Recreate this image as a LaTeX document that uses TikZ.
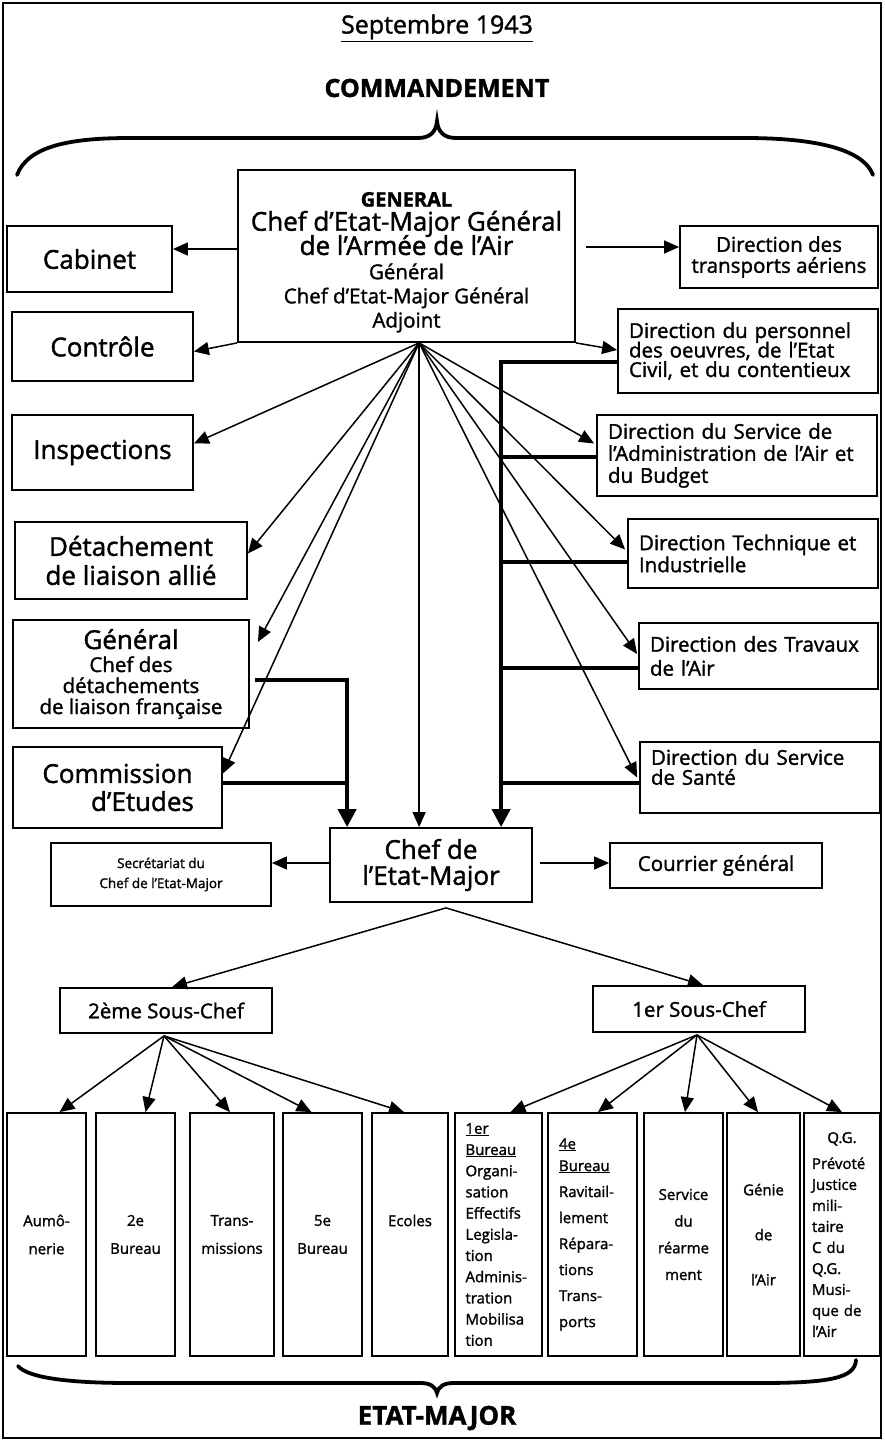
\documentclass[tikz,border=0pt]{standalone}
\usepackage{fontspec}
\setmainfont{Open Sans}[FakeBold=1.5]
\usetikzlibrary{arrows.meta,calc}
\newcommand{\fs}[2]{\fontsize{#1}{#2}\selectfont\lineskiplimit=-100pt }
\begin{document}
\begin{tikzpicture}[x=1pt,y=-1pt,
  box/.style={draw,line width=1.8pt,inner sep=0pt,align=center},
  arr/.style={line width=1.5pt,-{Triangle[length=15pt,width=13pt]}},
  thk/.style={line width=4pt},
  thkarr/.style={line width=4pt,-{Triangle[length=18pt,width=18pt]}},
  brace/.style={line width=3.8pt,line cap=round},
  big/.style={font=\fs{26}{27}},
  mid/.style={font=\fs{20.5}{22}},
]
\useasboundingbox (0,0) rectangle (885,1443);
\draw[line width=1.6pt] (3,3) rectangle (881,1438);

\node[font=\fs{25}{26}] (title) at (437,28) {\underline{Septembre 1943}};
\node[font=\bfseries\fs{25}{26}] (cmd) at (437,88) {COMMANDEMENT};
\node[font=\bfseries\fs{26}{27}] (etat) at (437,1418) {ETAT-MAJOR};

\draw[brace] (17,175) .. controls (28,146) and (70,138) .. (130,138) -- (418,138) .. controls (430,138) and (436,132) .. (437,121) .. controls (438,132) and (444,138) .. (456,138) -- (745,138) .. controls (805,138) and (862,146) .. (873,175);
\draw[brace] (18,1366) .. controls (28,1378) and (70,1383) .. (130,1383) -- (420,1383) .. controls (430,1383) and (435,1386) .. (437,1393) .. controls (439,1386) and (444,1383) .. (454,1383) -- (760,1383) .. controls (830,1383) and (855,1378) .. (856,1360);

% top
\node[box,minimum width=337pt,minimum height=172pt,font=\fs{20.5}{24.2}] (gen) at (406.5,256)
 {\rule{0pt}{27pt}{\bfseries\fs{20}{24.2}GENERAL}\\{\fs{26}{24.2}Chef d'Etat-Major Général}\\{\fs{26}{24.2}de l'Armée de l'Air}\\Général\\Chef d'Etat-Major Général\\Adjoint};

% left column
\node[box,minimum width=165pt,minimum height=66pt,big] (cab) at (89.5,259) {Cabinet};
\node[box,minimum width=181pt,minimum height=69pt,big] (ctl) at (102.5,346.5) {Contrôle};
\node[box,minimum width=181pt,minimum height=75pt,big] (insp) at (102.5,452.5) {Inspections};
\node[box,minimum width=232pt,minimum height=77pt,font=\fs{26}{29}] (det) at (131,560.5) {Détachement\\de liaison allié};
\node[box,minimum width=236pt,minimum height=108pt,font=\fs{20.5}{21}] (gcd) at (131,674) {{\fs{26}{21}Général}\\[2pt]Chef des\\détachements\\de liaison française};
\node[box,minimum width=209pt,minimum height=81pt,font=\fs{26}{28}] (com) at (117.5,787.5) {Commission\\\hspace*{50pt}d'Etudes};

% right column
\node[box,minimum width=198pt,minimum height=62pt,font=\fs{20.5}{21}] (trans) at (779,257) {Direction des\\transports aériens};
\node[box,minimum width=260pt,minimum height=84pt,font=\fs{20.5}{19.5},align=left,text width=238pt] (pers) at (748,351) {Direction du personnel\\des oeuvres, de l'Etat\\Civil, et du contentieux};
\node[box,minimum width=280pt,minimum height=81pt,font=\fs{20.5}{22},align=left,text width=258pt] (adm) at (737,455.5) {Direction du Service de\\l'Administration de l'Air et\\du Budget};
\node[box,minimum width=250pt,minimum height=69pt,font=\fs{20.5}{22},align=left,text width=228pt] (tech) at (753,553.5) {Direction Technique et\\Industrielle};
\node[box,minimum width=239pt,minimum height=66pt,font=\fs{20.5}{24},align=left,text width=217pt] (trav) at (758.5,656) {Direction des Travaux\\de l'Air};
\node[box,minimum width=240pt,minimum height=71pt,font=\fs{20.5}{20},align=left,text width=218pt] (sante) at (760,777.5) {Direction du Service\\de Santé\rule[-21pt]{0pt}{1pt}};

% chef
\node[box,minimum width=202pt,minimum height=74pt,font=\fs{26}{26}] (chef) at (431,865) {Chef de\\l'Etat-Major};
\node[box,minimum width=220pt,minimum height=63pt,font=\fs{13.5}{20}] (sec) at (161,874.5) {Secrétariat du\\Chef de l'Etat-Major};
\node[box,minimum width=212pt,minimum height=45pt,mid] (cour) at (716,865.5) {Courrier général};
\node[box,minimum width=212pt,minimum height=45pt,mid] (sc2) at (166,1010.5) {2ème Sous-Chef};
\node[box,minimum width=212pt,minimum height=46pt,mid] (sc1) at (699,1009) {1er Sous-Chef};

% bottom row
\begin{scope}[every node/.append style={minimum height=243pt}]
\node[box,minimum width=79pt,font=\fs{15}{28}] (b1) at (46.5,1234.5) {Aumô-\\nerie};
\node[box,minimum width=79pt,font=\fs{15}{28}] (b2) at (135.5,1234.5) {2e\\Bureau};
\node[box,minimum width=84pt,font=\fs{15}{28}] (b3) at (232,1234.5) {Trans-\\missions};
\node[box,minimum width=79pt,font=\fs{15}{28}] (b4) at (322.5,1234.5) {5e\\Bureau};
\node[box,minimum width=76pt,font=\fs{15}{28}] (b5) at (410,1234.5) {Ecoles\\\phantom{Bureau}};
\node[box,minimum width=87pt,font=\fs{15}{21.2},align=left,text width=66pt] (b6) at (498.5,1234.5) {\underline{1er}\\\underline{Bureau}\\Organi-\\sation\\Effectifs\\Legisla-\\tion\\Adminis-\\tration\\Mobilisa\\tion};
\node[box,minimum width=89pt,font=\fs{15}{26},align=left,text width=67pt] (b7) at (592.5,1234.5) {\underline{4e}\\[-4pt]\underline{Bureau}\\Ravitail-\\lement\\Répara-\\tions\\Trans-\\ports};
\node[box,minimum width=79pt,font=\fs{15}{26.7}] (b8) at (683.5,1234.5) {Service\\du\\réarme\\ment};
\node[box,minimum width=73pt,font=\fs{15}{26}] (b9) at (763.5,1234.5) {Génie\\[19pt]de\\[19pt]l'Air};
\node[box,minimum width=76pt,font=\fs{15}{21},align=left,text width=60pt] (b10) at (842,1234.5) {\makebox[60pt]{Q.G.}\\[5pt]Prévoté\\Justice\\mili-\\taire\\C du\\Q.G.\\Musi-\\que de\\l'Air};
\end{scope}

% connectors from general
\coordinate (hub) at ($(gen.south west)+(182,0)$);
\draw[arr] ($(gen.west)+(0,-7)$) -- ($(cab.east)+(0,-10)$);
\draw[arr] (gen.south west) -- ($(ctl.east)+(0,5)$);
\draw[arr] (hub) -- ($(insp.east)+(0,-9)$);
\draw[arr] (hub) -- ($(det.east)+(0,-7)$);
\draw[arr] (hub) -- ($(gcd.east)+(8,-32)$);
\draw[arr] (hub) -- ($(com.east)+(0,-14)$);
\draw[arr] (hub) -- (hub |- chef.north);
\draw[arr] (gen.south east) -- ($(pers.west)+(0,-1)$);
\draw[arr] (hub) -- ($(adm.west)+(-2,-12)$);
\draw[arr] (hub) -- ($(tech.west)+(-2,-4)$);
\draw[arr] (hub) -- ($(trav.west)+(-1,-2)$);
\draw[arr] (hub) -- ($(sante.west)+(-2,0)$);
\draw[arr] ($(gen.east)+(10,-9)$) -- ($(trans.west)+(0,-10)$);

% thick feeders
\coordinate (vl) at ($(chef.north west)+(18,0)$);
\coordinate (vr) at ($(chef.north west)+(172,0)$);
\draw[thkarr] ($(gcd.east)+(5,6)$) -| (vl);
\draw[thk] ($(com.east)+(0,-4.5)$) coordinate (c1) -- (c1 -| vl);
\draw[thkarr] ($(pers.west)+(0,11)$) -| (vr);
\draw[thk] ($(adm.west)+(0,1.5)$) coordinate (c2) -- (c2 -| vr);
\draw[thk] ($(tech.west)+(0,8.5)$) coordinate (c3) -- (c3 -| vr);
\draw[thk] ($(trav.west)+(0,12)$) coordinate (c4) -- (c4 -| vr);
\draw[thk] ($(sante.west)+(0,5.5)$) coordinate (c5) -- (c5 -| vr);

% chef connectors
\draw[arr] ($(chef.west)+(0,-2)$) -- ($(sec.east)+(0,-11.5)$);
\draw[arr] ($(chef.east)+(7,-2)$) -- ($(cour.west)+(0,-2.5)$);
\coordinate (cs) at ($(chef.south)+(15,5)$);
\draw[arr] (cs) -- ($(sc2.north)+(6,0)$);
\draw[arr] (cs) -- ($(sc1.north)+(4,0)$);
\coordinate (s2) at ($(sc2.south)+(-2,2)$);
\foreach \b/\dx in {b1/13,b2/10,b3/-2,b4/-11,b5/-6} \draw[arr] (s2) -- ($(\b.north)+(\dx,0)$);
\coordinate (s1) at ($(sc1.south)+(-2,2)$);
\foreach \b/\dx in {b6/12,b7/5.5,b8/1.5,b9/-5.5,b10/0} \draw[arr] (s1) -- ($(\b.north)+(\dx,0)$);
\end{tikzpicture}
\end{document}
